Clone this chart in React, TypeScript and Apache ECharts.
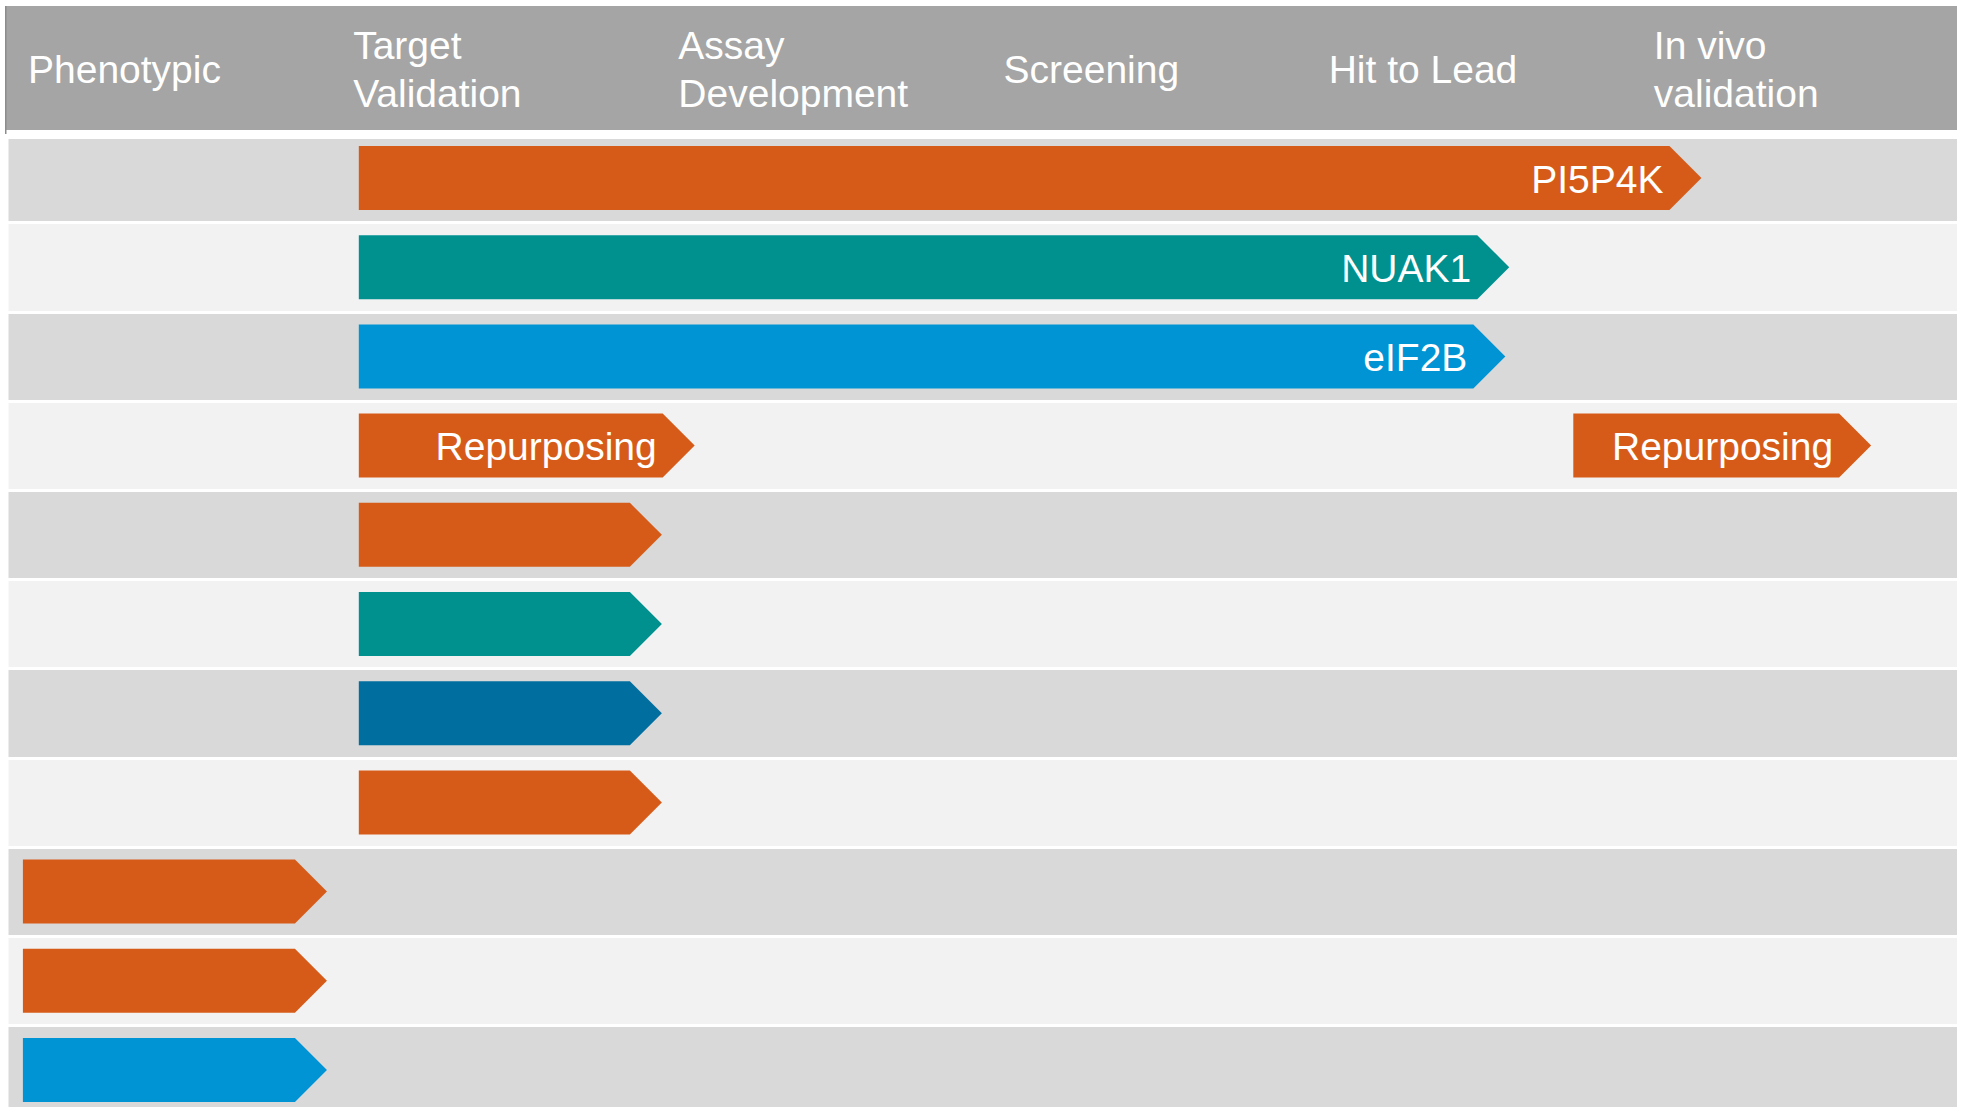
import React, { useEffect, useRef } from "react";
import * as echarts from "echarts";

// Stage (column) names shown in the header
const stages = ["Phenotypic", "Target\nValidation", "Assay\nDevelopment", "Screening", "Hit to Lead", "In vivo\nvalidation"];

// Table rows (unnamed)
const rows = ["1", "2", "3", "4", "5", "6", "7", "8", "9", "10", "11"];

// Progress arrows: row index, start stage, end stage (tip), label, colour key
const barRows = [0, 1, 2, 3, 3, 4, 5, 6, 7, 8, 9, 10];
const barStarts = [1.085, 1.085, 1.085, 1.085, 4.82, 1.085, 1.085, 1.085, 1.085, 0.052, 0.052, 0.052];
const barEnds = [5.214, 4.623, 4.611, 2.118, 5.736, 2.017, 2.017, 2.017, 2.017, 0.987, 0.987, 0.987];
const barLabels = ["PI5P4K", "NUAK1", "eIF2B", "Repurposing", "Repurposing", "", "", "", "", "", "", ""];
const barColorKeys = ["orange", "teal", "blue", "orange", "orange", "orange", "teal", "navy", "orange", "orange", "orange", "blue"];

const palette: Record<string, string> = {
  orange: "#D65B19",
  teal: "#00918F",
  blue: "#0094D4",
  navy: "#006E9F",
};

const FONT = "'Liberation Sans', Arial, sans-serif";

export default function App() {
  const ref = useRef<HTMLDivElement>(null);

  useEffect(() => {
    if (!ref.current) return;
    const chart = echarts.init(ref.current, undefined, { renderer: "svg" });

    const data = barRows.map((r, i) => [r, barStarts[i], barEnds[i], barLabels[i], barColorKeys[i]]);

    chart.setOption({
      animation: false,
      backgroundColor: "#ffffff",
      grid: { left: 6, top: 133.4, width: 1951, height: 981.2, containLabel: false },
      graphic: [
        {
          type: "rect",
          z: 100,
          shape: { x: 0, y: 130, width: 1963, height: 9 },
          style: { fill: "#ffffff" },
        },
        {
          type: "rect",
          z: 100,
          shape: { x: 0, y: 130, width: 8.5, height: 1010 },
          style: { fill: "#ffffff" },
        },
        {
          type: "rect",
          z: -1,
          shape: { x: 6, y: 6, width: 1951, height: 124 },
          style: { fill: "#A5A5A5" },
        },
        {
          type: "rect",
          z: 101,
          shape: { x: 5, y: 6, width: 1.5, height: 128 },
          style: { fill: "#8C8C8C" },
        },
      ],
      xAxis: {
        type: "value",
        position: "top",
        min: 0,
        max: 6,
        interval: 1,
        axisLine: { show: false },
        axisTick: { show: false },
        splitLine: { show: false },
        axisLabel: {
          show: true,
          formatter: (v: number) => (v < stages.length ? stages[v] : ""),
          color: "#ffffff",
          fontSize: 39,
          fontFamily: FONT,
          lineHeight: 48,
          align: "left",
          verticalAlign: "middle",
          margin: 64,
          padding: [0, 0, 0, 22],
          showMaxLabel: false,
        },
      },
      yAxis: {
        type: "category",
        data: rows,
        inverse: true,
        axisLine: { show: false },
        axisTick: { show: false },
        axisLabel: { show: false },
        splitArea: { show: true, areaStyle: { color: ["#D9D9D9", "#F2F2F2"] } },
        splitLine: { show: true, lineStyle: { color: "#ffffff", width: 3 } },
      },
      series: [
        {
          type: "custom",
          data,
          encode: { x: [1, 2], y: 0 },
          renderItem: (params: any, api: any) => {
            const row = api.value(0);
            const s = api.coord([api.value(1), row]);
            const e = api.coord([api.value(2), row]);
            const h = api.size([0, 1])[1] * 0.7175;
            const tip = h / 2;
            const cy = s[1];
            const label = barLabels[params.dataIndex];
            const color = palette[barColorKeys[params.dataIndex]];
            const children: any[] = [
              {
                type: "polygon",
                shape: {
                  points: [
                    [s[0], cy - h / 2],
                    [e[0] - tip, cy - h / 2],
                    [e[0], cy],
                    [e[0] - tip, cy + h / 2],
                    [s[0], cy + h / 2],
                  ],
                },
                style: { fill: color },
              },
            ];
            if (label) {
              children.push({
                type: "text",
                x: e[0] - tip - 6,
                y: cy + 1,
                style: {
                  text: label,
                  fill: "#ffffff",
                  fontSize: 39,
                  fontFamily: FONT,
                  align: "right",
                  verticalAlign: "middle",
                },
              });
            }
            return { type: "group", children };
          },
        },
      ],
    });

    return () => chart.dispose();
  }, []);

  return (
    <div
      style={{
        position: "fixed",
        left: 0,
        top: 0,
        width: 1963,
        height: 1107,
        overflow: "hidden",
        background: "#ffffff",
      }}
    >
      <div ref={ref} style={{ width: 1963, height: 1140 }} />
    </div>
  );
}
